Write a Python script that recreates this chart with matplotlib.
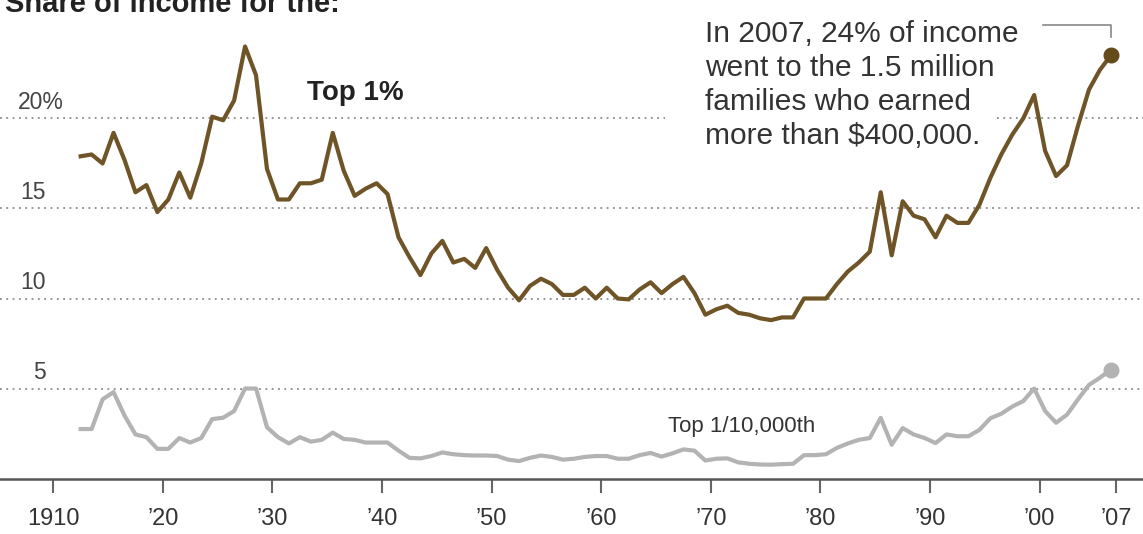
import matplotlib
matplotlib.use("Agg")
import matplotlib.pyplot as plt

# share of income, 1913-2007 (percent)
years = list(range(1913, 2008))

top_1_pct = [
    17.9, 18.0, 17.5, 19.2, 17.7, 15.9, 16.3, 14.8, 15.5, 17.0,   # 1913-1922
    15.6, 17.5, 20.1, 19.9, 21.0, 24.0, 22.4, 17.2, 15.5, 15.5,   # 1923-1932
    16.4, 16.4, 16.6, 19.2, 17.1, 15.7, 16.1, 16.4, 15.8, 13.4,   # 1933-1942
    12.3, 11.3, 12.5, 13.2, 12.0, 12.2, 11.7, 12.8, 11.6, 10.6,   # 1943-1952
    9.9, 10.7, 11.1, 10.8, 10.2, 10.2, 10.6, 10.0, 10.6, 10.0,    # 1953-1962
    9.95, 10.5, 10.9, 10.3, 10.8, 11.2, 10.3, 9.1, 9.4, 9.6,      # 1963-1972
    9.2, 9.1, 8.9, 8.8, 8.95, 8.95, 10.0, 10.0, 10.0, 10.8,       # 1973-1982
    11.5, 12.0, 12.6, 15.9, 12.4, 15.4, 14.6, 14.4, 13.4, 14.6,   # 1983-1992
    14.2, 14.2, 15.2, 16.7, 18.0, 19.1, 20.0, 21.3, 18.2, 16.8,   # 1993-2002
    17.4, 19.6, 21.6, 22.7, 23.5,                                 # 2003-2007
]

top_001_pct = [
    2.75, 2.75, 4.40, 4.80, 3.50, 2.45, 2.30, 1.65, 1.65, 2.25,   # 1913-1922
    2.00, 2.25, 3.30, 3.38, 3.75, 5.00, 5.00, 2.85, 2.30, 1.95,   # 1923-1932
    2.30, 2.05, 2.15, 2.55, 2.20, 2.15, 2.00, 2.00, 2.00, 1.55,   # 1933-1942
    1.15, 1.12, 1.25, 1.45, 1.35, 1.30, 1.28, 1.28, 1.25, 1.05,   # 1943-1952
    0.97, 1.15, 1.28, 1.20, 1.05, 1.10, 1.20, 1.25, 1.25, 1.10,   # 1953-1962
    1.10, 1.30, 1.42, 1.22, 1.40, 1.62, 1.55, 1.00, 1.10, 1.12,   # 1963-1972
    0.90, 0.82, 0.78, 0.77, 0.80, 0.82, 1.30, 1.30, 1.35, 1.70,   # 1973-1982
    1.95, 2.15, 2.25, 3.37, 1.88, 2.80, 2.45, 2.25, 1.97, 2.45,   # 1983-1992
    2.35, 2.35, 2.70, 3.35, 3.60, 4.00, 4.30, 5.00, 3.75, 3.10,   # 1993-2002
    3.55, 4.40, 5.20, 5.60, 6.05,                                 # 2003-2007
]

tick_years = [1910, 1920, 1930, 1940, 1950, 1960, 1970, 1980, 1990, 2000, 2007]
tick_labels = ["1910", "\u201920", "\u201930", "\u201940", "\u201950", "\u201960",
               "\u201970", "\u201980", "\u201990", "\u201900", "\u201907"]
grid_values = [5, 10, 15, 20]
grid_labels = ["5", "10", "15", "20%"]

plt.rcParams['font.family'] = ['Liberation Sans', 'DejaVu Sans']

W, H = 1143, 534
fig = plt.figure(figsize=(W / 100, H / 100), dpi=100)
ax = fig.add_axes([0, 0, 1, 1])
ax.set_xlim(1905.64, 2009.93)
ax.set_ylim(-3.08, 26.58)
ax.patch.set_alpha(0)

# dotted gridlines, the 20% one is broken behind the note
dots = (0, (1, 2.5))
for v in grid_values:
    if v == 20:
        ax.axhline(v, xmin=0, xmax=665 / W, color="#8a8a8a", lw=1.3, ls=dots, zorder=1)
        ax.axhline(v, xmin=997 / W, xmax=1, color="#8a8a8a", lw=1.3, ls=dots, zorder=1)
    else:
        ax.axhline(v, color="#8a8a8a", lw=1.3, ls=dots, zorder=1)

ytrans = ax.get_yaxis_transform()
for v, lab in zip(grid_values, grid_labels):
    if lab.endswith("%"):
        ax.text(18 / W, v + 0.55, lab, transform=ytrans, ha="left", va="baseline",
                fontsize=16.5, color="#444444")
    else:
        ax.text(46 / W, v + 0.55, lab, transform=ytrans, ha="right", va="baseline",
                fontsize=16.5, color="#444444")

# the two series
ax.plot(years, top_001_pct, color="#b3b3b3", lw=3.0, solid_joinstyle="round", zorder=3)
ax.plot(years[-1], top_001_pct[-1], "o", ms=10.5, color="#b3b3b3", zorder=4)
ax.plot(years, top_1_pct, color="#6e5426", lw=3.0, solid_joinstyle="round", zorder=3)
ax.plot(years[-1], top_1_pct[-1], "o", ms=10.5, color="#654a1c", zorder=4)

# axis
for s in ["top", "left", "right"]:
    ax.spines[s].set_visible(False)
ax.spines["bottom"].set_position(("data", 0))
ax.spines["bottom"].set_color("#555555")
ax.spines["bottom"].set_linewidth(1.8)
ax.set_yticks([])
ax.set_xticks([t + 0.5 for t in tick_years], tick_labels)
ax.tick_params(axis="x", length=10, width=1.5, color="#666666", pad=11,
               labelsize=17, labelcolor="#333333")

# text
fig.text(5 / W, 1 - 12 / H, "Share of income for the:", fontsize=21,
         fontweight="bold", color="#222222", va="baseline")
fig.text(307 / W, 1 - 100 / H, "Top 1%", fontsize=20, fontweight="bold",
         color="#222222", va="baseline")
fig.text(668 / W, 1 - 432 / H, "Top 1/10,000th", fontsize=16, color="#333333",
         va="baseline")
fig.text(705 / W, 1 - 144 / H,
         "In 2007, 24% of income\nwent to the 1.5 million\nfamilies who earned\nmore than $400,000.",
         fontsize=21.5, color="#333333", va="baseline", linespacing=1.28)

# leader from the note to the 2007 point
ax.plot([years[-1] - 6.2, years[-1], years[-1]], [25.19, 25.19, 24.5],
        color="#888888", lw=1.2, zorder=2)

fig.savefig("out.png", dpi=100)
